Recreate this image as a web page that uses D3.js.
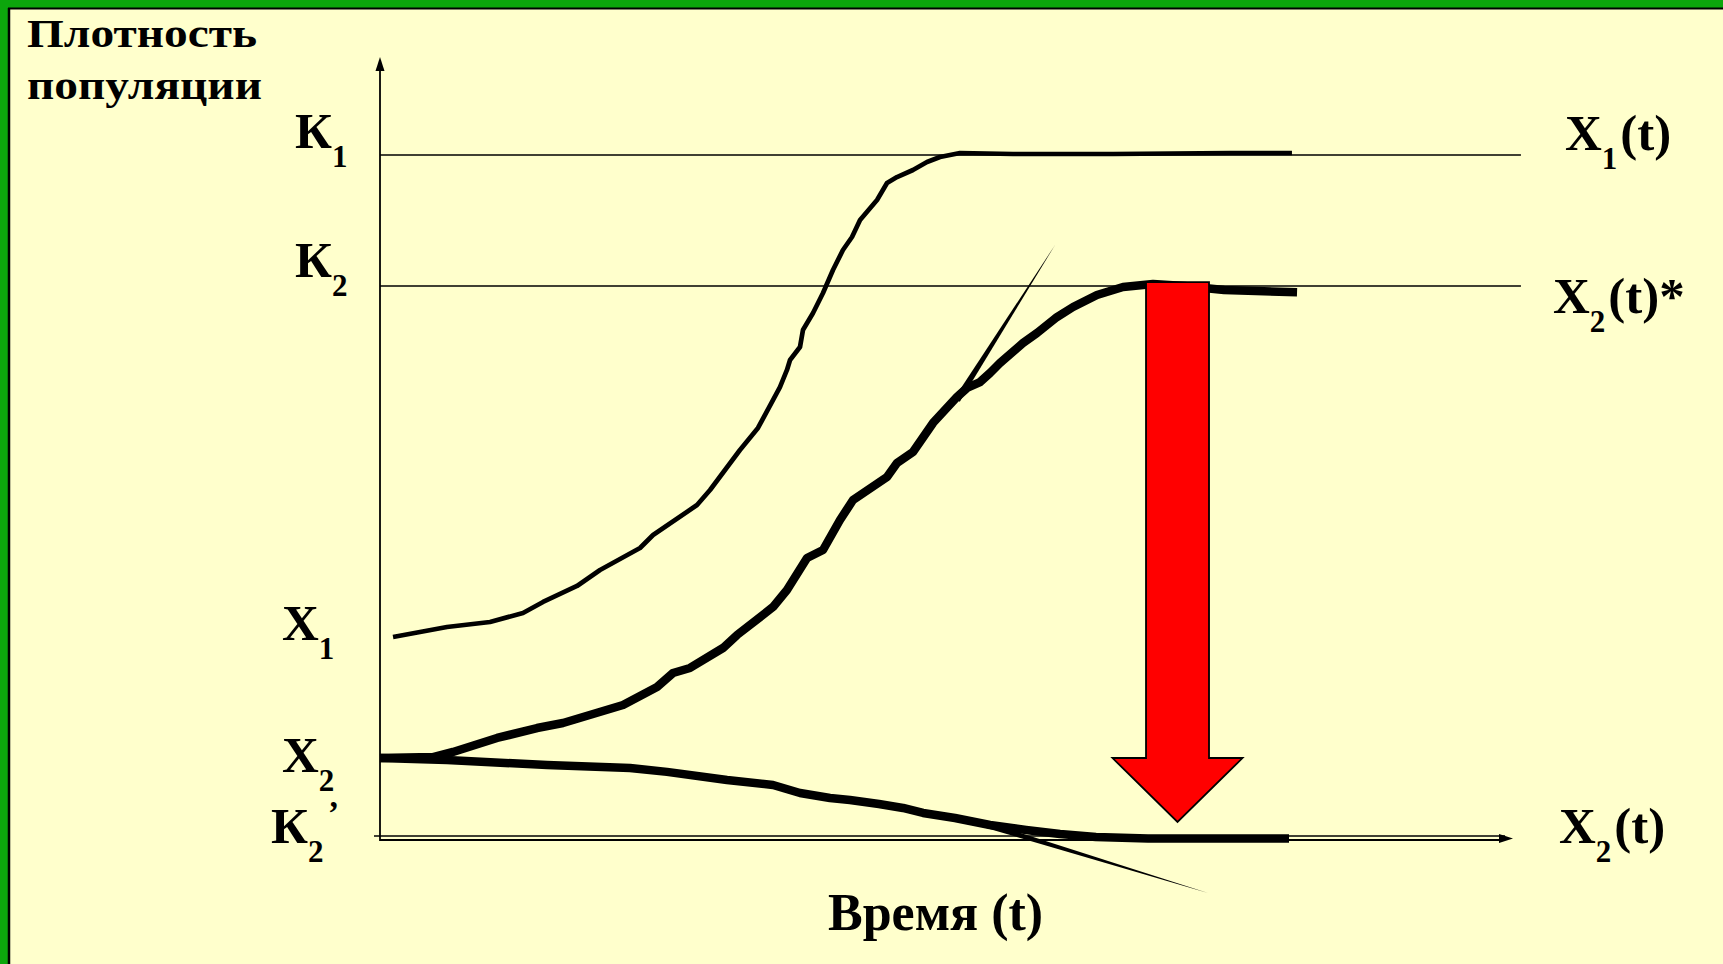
<!DOCTYPE html>
<html>
<head>
<meta charset="utf-8">
<script src="https://cdn.jsdelivr.net/npm/d3@7"></script>
<style>
  html, body { margin: 0; padding: 0; background: #FFFFCC; }
  svg { display: block; }
  text { font-family: "Liberation Serif", "Times New Roman", serif; font-weight: bold; fill: #000; }
</style>
</head>
<body>
<svg id="chart" width="1723" height="964"></svg>
<script>
// ---------------- DATA ----------------
// time axis: 0..100 (arbitrary units), density axis: 0..100 (arbitrary units)
const levelK1 = 87.48;      // carrying capacity K1
const levelK2 = 70.75;      // carrying capacity K2
const levelK2p = 0.51;      // reduced capacity K2'
const startX1 = 25.93;      // initial density X1
const startX2 = 10.47;      // initial density X2

// X1(t) – thin logistic curve
const curveX1 = [
  [1.15,25.93],[5.91,27.20],[9.71,27.84],[12.62,28.99],[14.39,30.40],[17.39,32.44],
  [19.42,34.48],[22.95,37.29],[24.10,38.95],[27.98,42.78],[29.13,44.70],[31.77,49.81],
  [33.36,52.62],[35.30,57.85],[35.92,60.03],[36.19,61.30],[37.07,62.96],[37.33,65.13],
  [38.22,67.31],[39.10,69.86],[39.98,72.80],[40.86,75.35],[41.66,77.01],[42.37,79.18],
  [43.87,81.74],[44.75,83.91],[45.63,84.67],[47.04,85.57],[48.28,86.59],[49.43,87.23],
  [51.19,87.74],[55.87,87.61],[64.70,87.61],[75.02,87.74],[80.49,87.74]
];

// X2(t)* – thick logistic curve rising to K2
const curveX2star = [
  [0,10.47],[4.68,10.60],[6.44,11.24],[10.33,13.03],[13.86,14.30],[16.15,14.94],
  [21.45,17.24],[24.45,19.54],[25.86,21.33],[27.36,21.97],[30.27,24.52],[31.51,26.18],
  [34.69,29.76],[35.92,31.93],[37.69,36.02],[39.10,37.04],[40.60,40.87],[41.75,43.42],
  [44.75,46.36],[45.63,48.15],[47.04,49.55],[48.81,53.26],[50.93,56.58],[51.81,57.73],
  [52.96,58.49],[53.84,59.64],[54.72,60.92],[56.75,63.47],[57.99,64.75],[59.75,66.79],
  [61.17,68.07],[63.28,69.60],[65.58,70.63],[68.23,71.01],[71.00,70.75],[74.50,70.25],
  [80.94,69.95]
];

// X2(t) – thick curve declining to K2'
const curveX2 = [
  [0,10.47],[5.91,10.22],[14.74,9.58],[22.07,9.20],[25.33,8.70],[30.63,7.66],
  [34.69,7.02],[37.07,6.00],[39.72,5.36],[41.48,5.11],[44.04,4.60],[46.16,4.09],
  [47.93,3.45],[50.75,2.81],[53.84,1.92],[57.02,1.28],[60.02,0.77],[63.19,0.38],
  [67.79,0.20],[80.23,0.20]
];

// tangent lines (start, end)
const tangentUp = [[50.93,56.19],[59.58,75.99]];
const tangentDown = [[52.96,2.17],[73.08,-6.77]];

// red arrow: time position, from level to tip, shoulder level
const arrowT = 70.39;
const arrowTop = 71.26;
const arrowShoulder = 10.47;
const arrowTip = 2.30;

// label texts
const leftLabels = [
  { main: "К", sub: "1", level: levelK1 },
  { main: "К", sub: "2", level: levelK2 },
  { main: "X", sub: "1", level: startX1 },
  { main: "X", sub: "2", level: startX2 },
  { main: "К", sub: "2", level: levelK2p }
];
const primeMark = "’";
const rightLabels = [
  { main: "X", sub: "1", rest: "(t)", level: levelK1 },
  { main: "X", sub: "2", rest: "(t)*", level: levelK2 },
  { main: "X", sub: "2", rest: "(t)", level: 0 }
];
const yTitle = ["Плотность", "популяции"];
const xTitle = "Время (t)";

// ---------------- LAYOUT / STYLE ----------------
const W = 1723, H = 964;
const svg = d3.select("#chart");
const x = d3.scaleLinear().domain([0, 100]).range([380, 1513]);
const y = d3.scaleLinear().domain([0, 100]).range([840, 57]);

// background + frame
svg.append("rect").attr("width", W).attr("height", H).attr("fill", "#FFFFCC");
svg.append("rect").attr("x", 0).attr("y", 0).attr("width", W).attr("height", 8).attr("fill", "#0CA60C");
svg.append("rect").attr("x", 0).attr("y", 0).attr("width", 8).attr("height", H).attr("fill", "#0CA60C");
svg.append("line").attr("x1", 8).attr("x2", W).attr("y1", 8.5).attr("y2", 8.5).attr("stroke", "#000").attr("stroke-width", 2);
svg.append("line").attr("x1", 9).attr("x2", 9).attr("y1", 8).attr("y2", H).attr("stroke", "#000").attr("stroke-width", 2.5);

// level lines K1, K2, K2'
const levelEnd = 100.7;
[levelK1, levelK2].forEach(v => {
  svg.append("line")
    .attr("x1", x(0)).attr("x2", x(levelEnd))
    .attr("y1", y(v)).attr("y2", y(v))
    .attr("stroke", "#000").attr("stroke-width", 1.6);
});
svg.append("line")
  .attr("x1", x(0) - 6).attr("x2", x(99.3))
  .attr("y1", y(levelK2p)).attr("y2", y(levelK2p))
  .attr("stroke", "#000").attr("stroke-width", 1.6);

// axes
svg.append("line").attr("x1", x(0)).attr("x2", x(0)).attr("y1", y(0) + 1).attr("y2", y(100) + 8)
  .attr("stroke", "#000").attr("stroke-width", 1.8);
svg.append("line").attr("x1", x(0)).attr("x2", x(100) - 8).attr("y1", y(0)).attr("y2", y(0))
  .attr("stroke", "#000").attr("stroke-width", 1.8);
svg.append("path")
  .attr("d", `M${x(0)},${y(100)} L${x(0) - 4.5},${y(100) + 14} L${x(0) + 4.5},${y(100) + 14} Z`)
  .attr("fill", "#000");
svg.append("path")
  .attr("d", `M${x(100)},${y(0) - 1.5} L${x(100) - 14},${y(0) - 6} L${x(100) - 14},${y(0) + 3} Z`)
  .attr("fill", "#000");

// curves
const line = d3.line().x(d => x(d[0])).y(d => y(d[1])).curve(d3.curveLinear);
svg.append("path").attr("d", line(curveX2)).attr("fill", "none")
  .attr("stroke", "#000").attr("stroke-width", 8.5).attr("stroke-linejoin", "round").attr("stroke-linecap", "butt");
svg.append("path").attr("d", line(curveX2star)).attr("fill", "none")
  .attr("stroke", "#000").attr("stroke-width", 8.5).attr("stroke-linejoin", "round").attr("stroke-linecap", "butt");
svg.append("path").attr("d", line(curveX1)).attr("fill", "none")
  .attr("stroke", "#000").attr("stroke-width", 4.7).attr("stroke-linejoin", "round").attr("stroke-linecap", "butt");

// tapered tangent lines
function wedge(seg, baseW) {
  const x0 = x(seg[0][0]), y0 = y(seg[0][1]), x1 = x(seg[1][0]), y1 = y(seg[1][1]);
  const dx = x1 - x0, dy = y1 - y0, L = Math.hypot(dx, dy);
  const nx = -dy / L * baseW / 2, ny = dx / L * baseW / 2;
  return `M${x0 + nx},${y0 + ny} L${x1},${y1} L${x0 - nx},${y0 - ny} Z`;
}
svg.append("path").attr("d", wedge(tangentUp, 6.5)).attr("fill", "#000");
svg.append("path").attr("d", wedge(tangentDown, 6)).attr("fill", "#000");

// red arrow
const ac = x(arrowT), shaftHalf = 31.5, headHalf = 65;
const arrowPts = [
  [ac - shaftHalf, y(arrowTop)], [ac + shaftHalf, y(arrowTop)],
  [ac + shaftHalf, y(arrowShoulder)], [ac + headHalf, y(arrowShoulder)],
  [ac, y(arrowTip)],
  [ac - headHalf, y(arrowShoulder)], [ac - shaftHalf, y(arrowShoulder)]
];
svg.append("path").attr("d", "M" + arrowPts.map(p => p.join(",")).join("L") + "Z")
  .attr("fill", "#FF0000").attr("stroke", "#000").attr("stroke-width", 1.8).attr("stroke-linejoin", "miter");

// labels
const leftX = [295, 295, 282, 282, 271];
const leftDy = [-7, -9, 3, 14, 7];
leftLabels.forEach((d, i) => {
  const t = svg.append("text").attr("x", leftX[i]).attr("y", y(d.level) + leftDy[i]).attr("font-size", 51);
  t.append("tspan").text(d.main);
  t.append("tspan").attr("font-size", 31).attr("dy", 19).text(d.sub);
});
// prime of K2'
svg.append("text").attr("x", 328).attr("y", y(levelK2p) - 12).attr("font-size", 33).text(primeMark);

const rightX = [1565, 1553, 1559];
const rightDy = [-5, 27, 3];
rightLabels.forEach((d, i) => {
  const t = svg.append("text").attr("x", rightX[i]).attr("y", y(d.level) + rightDy[i]).attr("font-size", 51);
  t.append("tspan").text(d.main);
  t.append("tspan").attr("font-size", 31).attr("dy", 19).text(d.sub);
  t.append("tspan").attr("dy", -19).attr("dx", 3).text(d.rest);
});

svg.append("text").attr("x", 27).attr("y", 47).attr("font-size", 40)
  .attr("textLength", 230).attr("lengthAdjust", "spacingAndGlyphs").text(yTitle[0]);
svg.append("text").attr("x", 27).attr("y", 99).attr("font-size", 40)
  .attr("textLength", 235).attr("lengthAdjust", "spacingAndGlyphs").text(yTitle[1]);

svg.append("text").attr("x", 828).attr("y", 930).attr("font-size", 52).text(xTitle);
</script>
</body>
</html>
